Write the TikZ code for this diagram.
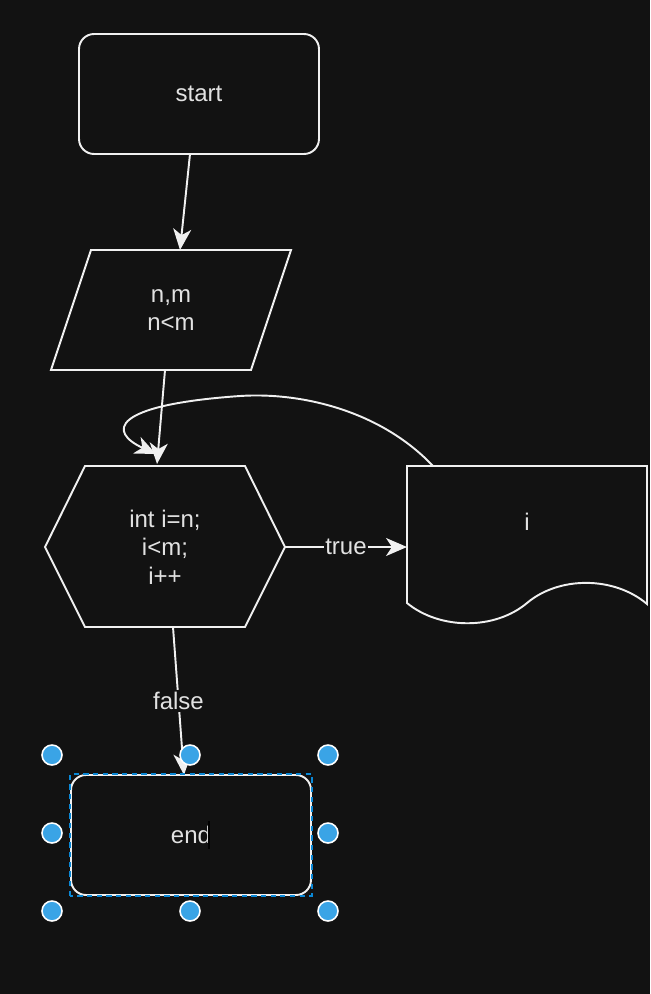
\documentclass[tikz,border=0pt]{standalone}
\usepackage{fontspec}
\setmainfont{Liberation Sans}
\usetikzlibrary{arrows.meta,calc,positioning}
\definecolor{canvas}{HTML}{121212}
\definecolor{ink}{HTML}{F0F0F0}
\definecolor{label}{HTML}{E2E2E2}
\definecolor{handle}{HTML}{3AA4E6}
\definecolor{selblue}{HTML}{0A88D6}

\tikzset{
  flow/.style={draw=ink, line width=1.1pt, fill=canvas},
  term/.style={flow, rounded corners=0.3cm, minimum width=4.8cm, minimum height=2.4cm},
  txt/.style={text=label, align=center, font=\fontsize{13.66}{16.3}\selectfont},
  conn/.style={draw=ink, line width=1.1pt, -{Stealth[length=0.42cm,width=0.36cm,inset=0.12cm]}},
  tag/.style={txt, fill=canvas, inner sep=1pt},
  grip/.style={circle, fill=handle, draw=white, line width=0.9pt, minimum size=0.4cm, inner sep=0pt},
}

\begin{document}
\begin{tikzpicture}[x=0.02cm, y=-0.02cm]
\fill[canvas] (0,0) rectangle (650,994);
\useasboundingbox (0,0) rectangle (650,994);

% start
\node[term, txt] (start) at (199,94) {start};
\coordinate (start-s) at (190,154);

% input n,m
\draw[flow] (91,250) -- (291,250) -- (251,370) -- (51,370) -- cycle;
\node[txt] (io) at (171,310) {n,m\\n<m};
\coordinate (io-n) at (180,250);
\coordinate (io-s) at (165,370);

% for loop
\draw[flow] (45,547) -- (85,466) -- (245,466) -- (285,547) -- (245,627) -- (85,627) -- cycle;
\node[txt] (loop) at (165,547) {int i=n;\\i<m;\\i++};
\coordinate (loop-n) at (157,464);
\coordinate (loop-back) at (156,454);
\coordinate (loop-e) at (285,547);
\coordinate (loop-s) at (173,627);

% output i
\draw[flow] (407,466) -- (647,466) -- (647,604)
  .. controls (614,576) and (559,576) .. (527,603)
  .. controls (495,630) and (440,630) .. (407,603) -- cycle;
\node[txt] (out) at (527,522) {i};
\coordinate (out-w) at (407,547);
\coordinate (out-n) at (433,466);

% end
\node[term, txt] (end) at (191,835) {end};
\coordinate (end-n) at (184,775);
\draw[label, line width=0.6pt] ($(end.center)+(18,-14)$) -- ++(0,28);

% connectors
\draw[conn] (start-s) -- (io-n);
\draw[conn] (io-s) -- (loop-n);
\draw[conn] (loop-e) -- node[tag] {true} (out-w);
\draw[conn] (loop-s) -- node[tag, pos=0.5] {false} (end-n);
\draw[conn] (out-n) .. controls (380,410) and (300,392) .. (240,396)
  .. controls (110,405) and (108,432) .. (loop-back);

% selection
\draw[selblue, line width=0.8pt, dash pattern=on 3pt off 2.5pt] (end.south west) rectangle (end.north east);
\foreach \gx/\gy [count=\k] in {52/755, 190/755, 328/755, 52/833, 328/833, 52/911, 190/911, 328/911}
  \node[grip] (grip\k) at (\gx,\gy) {};
\end{tikzpicture}
\end{document}
